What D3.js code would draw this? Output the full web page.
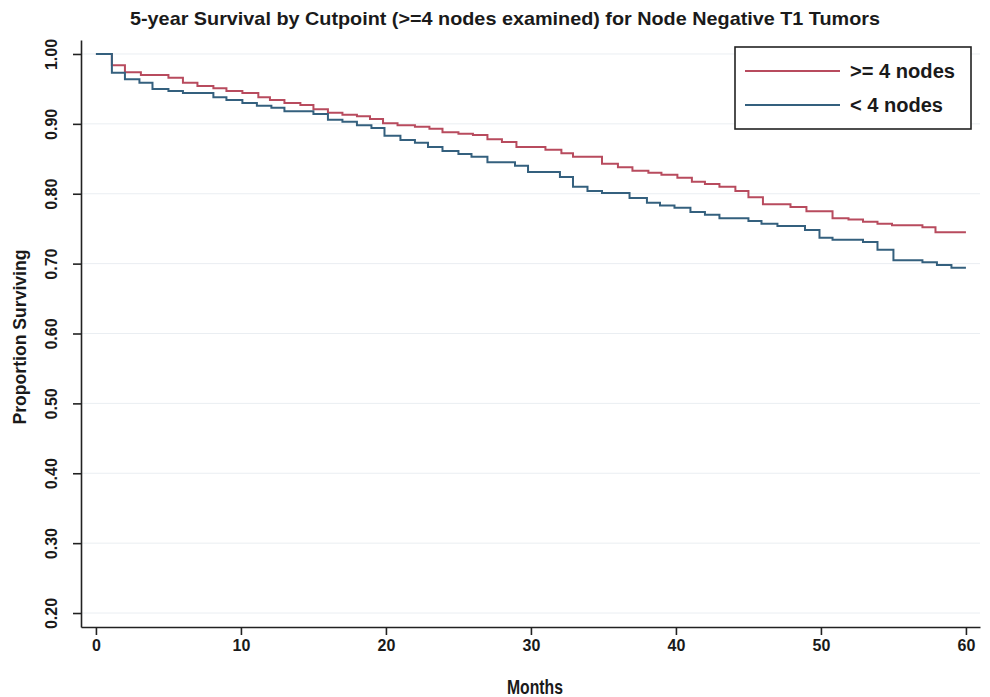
<!DOCTYPE html>
<html>
<head>
<meta charset="utf-8">
<script src="https://cdn.jsdelivr.net/npm/d3@7"></script>
<style>
  body { margin: 0; background: #fff; }
  text { font-family: "Liberation Sans", Arial, sans-serif; fill: #1a1a1a; }
</style>
</head>
<body>
<svg width="990" height="697"></svg>
<script>
// Kaplan-Meier steps (months, proportion surviving)
const timesHigh = [0, 1.1, 2, 3.1, 5, 6, 7, 8.1, 9, 10.1, 11.2, 12, 13, 14.1, 15, 16, 17, 18, 18.9, 19.8,
  20.8, 22, 23, 23.9, 25, 26, 27, 28, 29, 31, 32.1, 32.9, 34.9, 36, 37, 38.1, 39, 40.1, 41.1, 42,
  43, 44.1, 45, 46, 47.9, 49, 50.8, 51.9, 52.9, 53.9, 54.9, 57, 57.9, 60];
const survHigh = [1.0, 0.984, 0.974, 0.970, 0.966, 0.959, 0.954, 0.951, 0.947, 0.944, 0.938, 0.934, 0.930, 0.927, 0.921, 0.916, 0.913, 0.911, 0.907, 0.901,
  0.898, 0.896, 0.893, 0.888, 0.886, 0.884, 0.878, 0.874, 0.867, 0.863, 0.858, 0.853, 0.843, 0.838, 0.833, 0.830, 0.827, 0.823, 0.817, 0.814,
  0.810, 0.804, 0.795, 0.785, 0.781, 0.775, 0.765, 0.763, 0.760, 0.757, 0.755, 0.752, 0.745, 0.745];

const timesLow = [0, 1.1, 2, 3, 3.9, 5, 6, 8.1, 9, 10.1, 11.1, 12.1, 13, 15, 16, 17, 18, 19, 19.9, 21,
  22, 22.9, 23.9, 25, 25.9, 27, 28.9, 29.8, 32, 32.9, 33.9, 34.9, 36.8, 38, 38.9, 39.9, 41, 42, 43, 45,
  45.9, 47, 48.9, 49.9, 50.8, 52.9, 53.9, 55, 57, 58, 59, 60];
const survLow = [1.0, 0.973, 0.964, 0.959, 0.950, 0.947, 0.944, 0.938, 0.934, 0.930, 0.926, 0.923, 0.918, 0.914, 0.906, 0.903, 0.898, 0.894, 0.883, 0.877,
  0.873, 0.867, 0.861, 0.857, 0.853, 0.845, 0.840, 0.831, 0.824, 0.810, 0.804, 0.801, 0.794, 0.787, 0.783, 0.780, 0.774, 0.770, 0.765, 0.761,
  0.757, 0.754, 0.748, 0.737, 0.734, 0.731, 0.720, 0.705, 0.702, 0.698, 0.694, 0.694];

const seriesNames = [">= 4 nodes", "< 4 nodes"];
const seriesColors = ["#b84b5e", "#34607e"];
const xTicks = [0, 10, 20, 30, 40, 50, 60];
const xTickLabels = ["0", "10", "20", "30", "40", "50", "60"];
const yTicks = [1.0, 0.9, 0.8, 0.7, 0.6, 0.5, 0.4, 0.3, 0.2];
const yTickLabels = ["1.00", "0.90", "0.80", "0.70", "0.60", "0.50", "0.40", "0.30", "0.20"];

const svg = d3.select("svg");

const x = d3.scaleLinear().domain([-1.03, 60.97]).range([81, 980]);
const y = d3.scaleLinear().domain([0.18, 1.02]).range([627, 40]);

// light horizontal grid
svg.append("g")
  .selectAll("line")
  .data(yTicks)
  .join("line")
  .attr("x1", 82).attr("x2", 980)
  .attr("y1", d => y(d)).attr("y2", d => y(d))
  .attr("stroke", "#eaeef2")
  .attr("stroke-width", 1);

// survival curves as step lines
const stepLine = d3.line()
  .x(d => x(d[0]))
  .y(d => y(d[1]))
  .curve(d3.curveStepAfter);

const curves = [
  d3.zip(timesHigh, survHigh),
  d3.zip(timesLow, survLow)
];

curves.forEach((pts, i) => {
  svg.append("path")
    .datum(pts)
    .attr("fill", "none")
    .attr("stroke", seriesColors[i])
    .attr("stroke-width", 2)
    .attr("d", stepLine);
});

const tickFont = "'Liberation Sans Narrow', 'Liberation Sans', Arial, sans-serif";

// axes
const yAxis = svg.append("g")
  .attr("transform", "translate(81,0)")
  .call(d3.axisLeft(y).tickValues(yTicks).tickFormat((d, i) => yTickLabels[i]).tickSize(8).tickSizeOuter(0));
yAxis.select(".domain").attr("stroke", "#222").attr("stroke-width", 1.6);
yAxis.selectAll(".tick line").attr("stroke", "#222").attr("stroke-width", 1.6);
yAxis.selectAll(".tick text")
  .attr("x", 0).attr("dy", 0)
  .attr("transform", "translate(-24,0) rotate(-90)")
  .attr("text-anchor", "middle")
  .style("font-size", "16px")
  .style("font-weight", "bold")
  .style("fill", "#1a1a1a")
  .style("font-family", tickFont);

const xAxis = svg.append("g")
  .attr("transform", "translate(0,627)")
  .call(d3.axisBottom(x).tickValues(xTicks).tickFormat((d, i) => xTickLabels[i]).tickSize(8).tickSizeOuter(0));
xAxis.select(".domain").attr("stroke", "#222").attr("stroke-width", 1.6);
xAxis.selectAll(".tick line").attr("stroke", "#222").attr("stroke-width", 1.6);
xAxis.selectAll(".tick text")
  .attr("y", 13)
  .style("font-size", "16px")
  .style("font-weight", "bold")
  .style("fill", "#1a1a1a")
  .style("font-family", tickFont);

// title and axis titles
svg.append("text")
  .attr("x", 505).attr("y", 25)
  .attr("text-anchor", "middle")
  .attr("textLength", 750)
  .attr("lengthAdjust", "spacingAndGlyphs")
  .style("font-size", "19px")
  .style("font-weight", "bold")
  .text("5-year Survival by Cutpoint (>=4 nodes examined) for Node Negative T1 Tumors");

svg.append("text")
  .attr("transform", "translate(26,337) rotate(-90)")
  .attr("text-anchor", "middle")
  .attr("textLength", 175)
  .attr("lengthAdjust", "spacingAndGlyphs")
  .style("font-size", "18px")
  .style("font-weight", "bold")
  .text("Proportion Surviving");

svg.append("text")
  .attr("x", 535).attr("y", 694)
  .attr("text-anchor", "middle")
  .attr("textLength", 56)
  .attr("lengthAdjust", "spacingAndGlyphs")
  .style("font-size", "21px")
  .style("font-weight", "bold")
  .text("Months");

// legend
const legend = svg.append("g");
legend.append("rect")
  .attr("x", 735).attr("y", 47)
  .attr("width", 236).attr("height", 82)
  .attr("fill", "#fff")
  .attr("stroke", "#222")
  .attr("stroke-width", 1.6);

const legendWidths = [105, 93];
seriesNames.forEach((name, i) => {
  const ly = 71 + i * 34;
  legend.append("line")
    .attr("x1", 745).attr("x2", 840)
    .attr("y1", ly).attr("y2", ly)
    .attr("stroke", seriesColors[i])
    .attr("stroke-width", 2);
  legend.append("text")
    .attr("x", 850).attr("y", ly + 7)
    .attr("textLength", legendWidths[i])
    .attr("lengthAdjust", "spacingAndGlyphs")
    .style("font-size", "20px")
    .style("font-weight", "bold")
    .text(name);
});
</script>
</body>
</html>
